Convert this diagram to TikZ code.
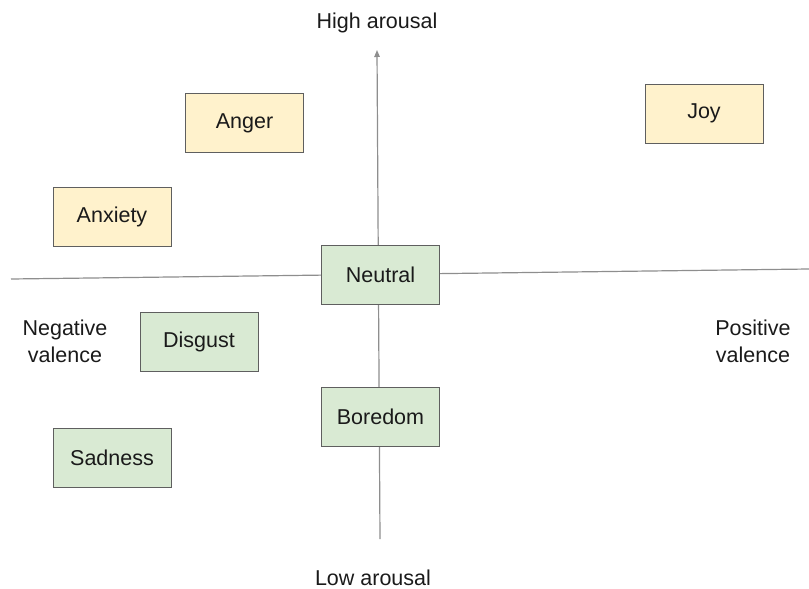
\documentclass[tikz,border=0pt]{standalone}
\usepackage{fontspec}
\setmainfont{Liberation Sans}
\usetikzlibrary{arrows.meta}
\definecolor{boxyellow}{HTML}{FFF2CC}
\definecolor{boxgreen}{HTML}{D9EAD3}
\definecolor{boxborder}{HTML}{5F5F5F}
\definecolor{axisgray}{HTML}{8E8E8E}
\definecolor{txt}{HTML}{1A1A1A}
\begin{document}
\begin{tikzpicture}[x=1pt,y=-1pt,
  emo/.style={draw=boxborder,line width=1pt,minimum width=118pt,minimum height=59pt,inner sep=0pt,font=\fontsize{21.5}{26}\selectfont,text=txt},
  hot/.style={emo,fill=boxyellow},
  calm/.style={emo,fill=boxgreen},
  lbl/.style={font=\fontsize{21.5}{27}\selectfont,text=txt,align=center,inner sep=0pt},
  axis/.style={draw=axisgray,line width=1.2pt}]
\useasboundingbox (0,0) rectangle (809,589);
% axes
\coordinate (hl) at (11,279);
\coordinate (hr) at (809,269);
\coordinate (vb) at (380,539);
\coordinate (vt) at (377,50);
\draw[axis] (hl) -- (hr);
\draw[axis,-{Triangle[length=7pt,width=5.5pt]}] (vb) -- (vt);
% boxes
\node[hot]  (anger)   at (244.5,123) {Anger};
\node[hot]  (joy)     at (704,113.5) {Joy};
\node[hot]  (anxiety) at (112,216.5) {Anxiety};
\node[calm] (neutral) at (380.5,274.5) {Neutral};
\node[calm] (disgust) at (199,341.5) {Disgust};
\node[calm] (boredom) at (380.5,417) {Boredom};
\node[calm] (sadness) at (112,457.5) {Sadness};
% labels
\node[lbl] (high) at (377,23) {High arousal};
\node[lbl] (low)  at (373,578) {Low arousal};
\node[lbl] (neg)  at (65,341) {Negative\\valence};
\node[lbl] (pos)  at (753,341) {Positive\\valence};
\end{tikzpicture}
\end{document}
